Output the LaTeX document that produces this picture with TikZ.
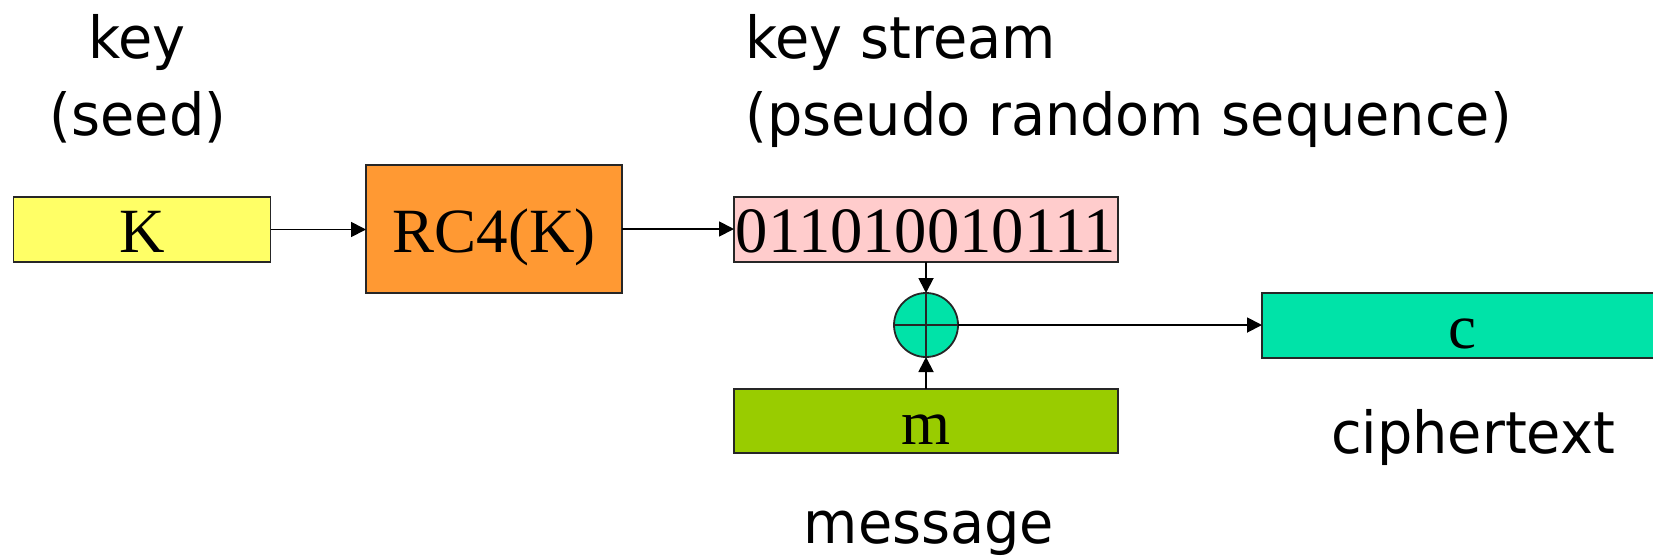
\documentclass[tikz,border=0pt]{standalone}
\usepackage{fontspec}
\setmainfont{Liberation Serif}
\newfontfamily\labelfont[FakeStretch=0.96]{DejaVu Sans}
\usetikzlibrary{arrows.meta}

\definecolor{keyyellow}{HTML}{FFFF66}
\definecolor{rcorange}{HTML}{FF9933}
\definecolor{streampink}{HTML}{FFCCCC}
\definecolor{xorteal}{HTML}{00E3A8}
\definecolor{msggreen}{HTML}{99CC00}

\tikzset{
  block/.style={draw=black!85, line width=0.9pt, inner sep=0pt, outer sep=0pt,
    font=\fontsize{31.5}{36}\selectfont, text height=23pt, text depth=0pt},
  caption/.style={font=\labelfont\fontsize{29}{36}\selectfont, inner sep=0pt, anchor=base},
  flow/.style={line width=0.9pt, -{Triangle[length=7.5pt,width=7.5pt]}},
  xorop/.style={circle, draw=black!85, line width=0.9pt, fill=xorteal,
    minimum size=32pt, inner sep=0pt, outer sep=0pt}
}

\begin{document}
\begin{tikzpicture}[x=0.5pt, y=-0.5pt]
  \useasboundingbox (0,0) rectangle (1653,558);

  % captions
  \node[caption] (lkey)  at (137,58)  {key};
  \node[caption] (lseed) at (138,135) {(seed)};
  \node[caption, anchor=base west] (lstream) at (745,58)  {key stream};
  \node[caption, anchor=base west] (lprng)   at (745,135) {(pseudo random sequence)};
  \node[caption] (lmsg)  at (929,543)  {message};
  \node[caption] (lct)   at (1473,453) {ciphertext};

  % blocks
  \node[block, fill=keyyellow, minimum width=128.5pt, minimum height=32.5pt] (K) at (142,229.5) {K};
  \node[block, fill=rcorange, minimum width=128pt, minimum height=64pt] (rc4) at (494,229) {RC4(K)};
  \node[block, fill=streampink, minimum width=192pt, minimum height=32.5pt,
        font=\fontsize{32.3}{36}\selectfont] (ks) at (926,229.5) {011010010111};
  \node[xorop] (xor) at (926,325) {};
  \draw[line width=0.9pt, black!85] (xor.north) -- (xor.south) (xor.west) -- (xor.east);
  \node[block, fill=msggreen, minimum width=192pt, minimum height=32pt] (m) at (926,421) {m};
  \node[block, fill=xorteal, minimum width=200pt, minimum height=32.5pt] (c) at (1462,325.5) {c};

  % connectors
  \draw[flow] (K.east) -- (K.east -| rc4.west);
  \draw[flow] (rc4.east) -- (rc4.east -| ks.west);
  \draw[flow] (ks.south -| xor.north) -- (xor.north);
  \draw[flow] (m.north -| xor.south) -- (xor.south);
  \draw[flow] (xor.east) -- (xor.east -| c.west);
\end{tikzpicture}
\end{document}
